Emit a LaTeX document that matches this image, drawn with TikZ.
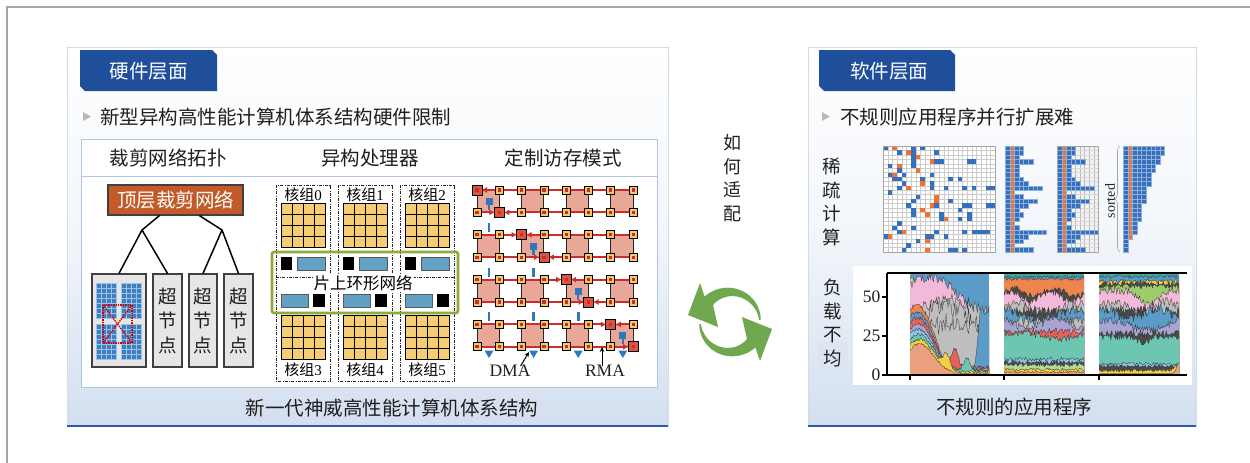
\documentclass[tikz,border=0pt]{standalone}
\usepackage{fontspec}
\setmainfont{Liberation Serif}
\newfontfamily\cjk{Noto Sans CJK SC}
\usetikzlibrary{arrows.meta,calc,decorations.pathreplacing}

\definecolor{tabblue}{HTML}{1F4E9A}
\definecolor{panelline}{HTML}{D0DCEA}
\definecolor{panelshade}{HTML}{D3DFEF}
\definecolor{rulebottom}{HTML}{2F5BA3}
\definecolor{innerline}{HTML}{AFC4E0}
\definecolor{rootbrown}{HTML}{C25A29}
\definecolor{snfill}{HTML}{E6E6E6}
\definecolor{cubeblue}{HTML}{3F7FC0}
\definecolor{cubelight}{HTML}{9CC4EA}
\definecolor{coreyellow}{HTML}{F5CD74}
\definecolor{ringgreen}{HTML}{8DAA3B}
\definecolor{bufblue}{HTML}{62A0C4}
\definecolor{tilepink}{HTML}{E9A798}
\definecolor{nodeyellow}{HTML}{F2C96A}
\definecolor{hotred}{HTML}{D9573F}
\definecolor{linkred}{HTML}{D02A2A}
\definecolor{dmablue}{HTML}{2F78BE}
\definecolor{spblue}{HTML}{3470BE}
\definecolor{sporange}{HTML}{F2712E}
\definecolor{arrowgreen}{HTML}{6FA84E}
\definecolor{lowbox}{HTML}{DCE6F2}
% stacked-area palette
\definecolor{aBlue}{HTML}{5B9BC8}
\definecolor{aPink}{HTML}{F2B9D9}
\definecolor{aGrey}{HTML}{BEBEBE}
\definecolor{aOrange}{HTML}{F0844F}
\definecolor{aSalmon}{HTML}{EAA07C}
\definecolor{aRed}{HTML}{E5625C}
\definecolor{aPurple}{HTML}{A8A3D1}
\definecolor{aSky}{HTML}{8EC4E6}
\definecolor{aTeal}{HTML}{6CC6B1}
\definecolor{aDeepTeal}{HTML}{3FA99C}
\definecolor{aYellow}{HTML}{F1D045}
\definecolor{aGreen}{HTML}{9ECC6C}
\definecolor{aMint}{HTML}{B4DA98}
\definecolor{aDark}{HTML}{4A4A4A}

\newcommand\fsz[2]{\fontsize{#1}{#2}\selectfont}
% one band of a stacked area plot: everything below the curve is filled
\newcommand\band[2]{\fill[#1,draw=black!80,line width=0.3pt] (-0.05,-3) -- plot[domain=-0.05:1.05,samples=90] (\x,{#2}) -- (1.05,-3) -- cycle;}
% one half of the green swap symbol (local units, y pointing up)
\newcommand\greenarrow{\fill[arrowgreen] plot[domain=4:135,samples=40] (\x:{30.8+5.2*(\x-4)/131}) -- (-30,39) -- (-42,7) -- (-12,-5) -- plot[domain=135:4,samples=40] (\x:{29.2-5.2*(\x-4)/131}) -- cycle;}
% row-length lists of the compressed sparse layouts
\def\rowsA{0/4,1/4,2/3,3/6,4/3,5/3,6/3,7/4,8/5,9/8,10/2,11/4,12/7,13/5,14/3,15/4,16/3,17/2,18/3,19/9,20/5,21/4,22/2,23/6}
\def\rowsS{0/9,1/9,2/8,3/8,4/7,5/7,6/6,7/6,8/6,9/5,10/5,11/5,12/5,13/4,14/4,15/4,16/4,17/3,18/3,19/3,20/2,21/1,22/1,23/1}
\newcommand\bars[2]{\foreach \r/\L in #2 {
   \foreach \k in {1,...,\L} {\filldraw[barcell] ({#1+(\k-1)*4.6},{146+\r*4.417}) rectangle ++(4.6,4.417);}
   \ifnum\L>1 \filldraw[barcell,fill=sporange] ({#1+4.6},{146+\r*4.417}) rectangle ++(4.6,4.417);\fi}}

\begin{document}
\begin{tikzpicture}[x=1pt,y=-1pt,
  declare function={bump(\pa,\pb,\pc)=exp(max(-9,-((\pa-\pb)*(\pa-\pb))/(\pc*\pc)));
                    base(\pa)=1+19*bump(\pa,0.12,0.25);
                    fade(\pa)=max(0,1-(\pa*\pa)/(0.42*0.42));},
  panel/.style={draw=panelline,line width=0.8pt,top color=white,bottom color=panelshade,middle color=white!70!panelshade},
  tabtext/.style={text=white,font=\cjk\fsz{19.5}{22},inner sep=0pt},
  cjktext/.style={text=black!88,font=\cjk\fsz{19.5}{22},inner sep=0pt},
  vtext/.style={text=black!88,font=\cjk\fsz{18.5}{23.5},align=center,inner sep=0pt},
  numtext/.style={text=black!88,font=\fsz{17.5}{20},inner sep=0pt},
  bullet/.style={fill=gray!55},
  rootbox/.style={draw=black!75,fill=rootbrown,line width=1.2pt,text=white,font=\cjk\fsz{19.5}{22},minimum width=135pt,minimum height=30pt,inner sep=0pt},
  snbox/.style={draw=black!75,fill=snfill,line width=1.2pt,inner sep=0pt,minimum height=93pt,align=center,font=\cjk\fsz{18.5}{24.5},text=black!88},
  treeline/.style={black,line width=1.5pt},
  dashdot/.style={black!85,line width=0.8pt,dash pattern=on 3pt off 1.3pt on 0.8pt off 1.3pt},
  coregrid/.style={black,line width=1pt},
  buf/.style={fill=bufblue,draw=black!65,line width=0.8pt},
  blk/.style={fill=black},
  tile/.style={fill=tilepink,draw=black!85,line width=0.9pt},
  redlink/.style={linkred,line width=1.9pt,shorten >=4.5pt,-{Latex[length=5.5pt,width=6pt]}},
  ysq/.style={rectangle,fill=nodeyellow,draw=black,line width=0.8pt,minimum size=8pt,inner sep=0pt},
  hotsq/.style={rectangle,fill=hotred,draw=black,line width=0.8pt,minimum size=10pt,inner sep=0pt},
  callout/.style={black,line width=1pt,-{Stealth[length=5pt,width=4.5pt]}},
  cube/.style={fill=cubeblue,draw=cubelight,line width=0.35pt},
  barcell/.style={fill=spblue,draw=spblue!55!white,line width=0.2pt},
  axis/.style={black,line width=1.1pt}]

\useasboundingbox (0,0) rectangle (1250,463);
\fill[white] (0,0) rectangle (1250,463);
\draw[gray!70,line width=1.3pt] (7,463) -- (7,7) -- (1250,7);

% ---------------- hardware panel ----------------
\path[panel] (67,47) rectangle (668,426);
\draw[rulebottom,line width=2.4pt] (67,426) -- (668,426);
\fill[tabblue] (80,50) -- (212,50) -- (217,55) -- (217,91) -- (85,91) -- (80,86) -- cycle;
\node[tabtext] (hwtab) at (148.5,71) {硬件层面};
\fill[bullet] (83,112) -- (91,116.5) -- (83,121) -- cycle;
\node[cjktext,anchor=west] (hwnote) at (100,117) {新型异构高性能计算机体系结构硬件限制};
\draw[innerline,fill=white,line width=1pt] (81,139) rectangle (657,387);
\draw[innerline,line width=1pt] (81,176) -- (657,176);
\node[cjktext] (t1) at (168,158) {裁剪网络拓扑};
\node[cjktext] (t2) at (370,158) {异构处理器};
\node[cjktext] (t3) at (563,158) {定制访存模式};
\node[cjktext] (hwcap) at (392,408) {新一代神威高性能计算机体系结构};

% pruned network tree
\node[rootbox] (root) at (175.5,200) {顶层裁剪网络};
\node[snbox,minimum width=54pt] (sn0) at (119,320.5) {};
\node[snbox,minimum width=29pt] (sn1) at (167.5,320.5) {超\\节\\点};
\node[snbox,minimum width=28pt] (sn2) at (203,320.5) {超\\节\\点};
\node[snbox,minimum width=29pt] (sn3) at (238.5,320.5) {超\\节\\点};
\coordinate (ja) at (142,230);
\coordinate (jb) at (222,230);
\draw[treeline] ($(root.south west)+(52,0)$) -- (ja) -- (sn0.north);
\draw[treeline] (ja) -- (sn1.north);
\draw[treeline] ($(root.south west)+(92,0)$) -- (jb) -- (sn2.north);
\draw[treeline] (jb) -- (sn3.north);
% cabinets inside the first super node
\foreach \cx/\cy in {96/283,121/283,96/324,121/324} {
  \foreach \i in {0,...,3} \foreach \j in {0,...,6}
    \draw[cube] (\cx+\i*5.1,\cy+\j*5) rectangle ++(5.1,5);
}
\draw[red!85!black,densely dotted,line width=1.4pt] (103,305) rectangle (132,343);
\draw[red!85!black,densely dotted,line width=1.4pt] (103,305) -- (132,343);
\draw[red!85!black,densely dotted,line width=1.4pt] (132,305) -- (103,343);

% heterogeneous processor: six core groups on a ring
\foreach \c [evaluate=\c as \d using int(\c+3), evaluate=\c as \xo using 276+62*\c] in {0,1,2} {
  \draw[dashdot] (\xo,185) rectangle ++(54,196);
  \draw[dashdot] (\xo,277) -- ++(54,0);
  \node[font=\fsz{15}{17},inner sep=0pt] (cg\c) at (\xo+27,195) {{\cjk 核组}\c};
  \node[font=\fsz{15}{17},inner sep=0pt] (cg\d) at (\xo+27,370) {{\cjk 核组}\d};
  \foreach \gy in {203,315} {
    \draw[coregrid,fill=coreyellow] (\xo+5,\gy) rectangle ++(44,44);
    \foreach \k in {1,2,3} {
      \draw[coregrid] (\xo+5+\k*11,\gy) -- ++(0,44);
      \draw[coregrid] (\xo+5,\gy+\k*11) -- ++(44,0);
    }
  }
  \fill[blk] (\xo+5,257) rectangle ++(11,13);
  \draw[buf] (\xo+21,257) rectangle ++(28,13);
  \draw[buf] (\xo+5,294) rectangle ++(27,13);
  \fill[blk] (\xo+37,294) rectangle ++(12,13);
}
\node[font=\cjk\fsz{16.5}{18},fill=white,inner sep=1pt] (ringlbl) at (363,283) {片上环形网络};
\draw[ringgreen,line width=2.6pt,rounded corners=2pt] (272,252) rectangle (458,313);

% customised memory access: 8x8 mesh of cores
\foreach \i in {0,...,7} \foreach \j in {0,...,7}
  \coordinate (p-\i-\j) at ({477+22.3*\i},{190+22.4*\j});
\foreach \a in {0,...,3} \foreach \b in {0,...,3}
  \draw[tile] ({477+44.6*\a},{190+44.8*\b}) rectangle ++(22.3,22.4);
\foreach \j in {0,...,7} {
  \ifnum\j>0 \draw[redlink] (p-0-\j) -- (p-\j-\j);\fi
  \ifnum\j<7 \draw[redlink] (p-7-\j) -- (p-\j-\j);\fi
}
\foreach \g [evaluate=\g as \cx using 477+44.6*\g+12, evaluate=\g as \ry using 190+44.8*\g] in {0,...,3} {
  \fill[dmablue] (\cx-3.5,\ry+8) rectangle (\cx+3.5,\ry+15);
  \fill[dmablue] (\cx-1.2,\ry+15) rectangle (\cx+1.2,\ry+20);
  \fill[dmablue] (\cx-4.5,350.5) -- (\cx+4.5,350.5) -- (\cx,358) -- cycle;
  \foreach \h in {1,2,3} {
    \ifnum\h>\g \fill[dmablue] (\cx-1.3,{190+44.8*\h-12}) rectangle (\cx+1.3,{190+44.8*\h-3});\fi
  }
}
\foreach \i in {0,...,7} \foreach \j in {0,...,7} {
  \ifnum\i=\j \node[hotsq] (n-\i-\j) at (p-\i-\j) {};
  \else \node[ysq] (n-\i-\j) at (p-\i-\j) {};\fi
  \fill[linkred] ($(p-\i-\j)+(-1.6,-1.6)$) rectangle ++(3.2,3.2);
}
\node[numtext] (dma) at (510,371) {DMA};
\node[numtext] (rma) at (605,371) {RMA};
\coordinate (dmatip) at (529,352);
\coordinate (rmatip) at (602,347);
\draw[callout] ($(dma.north east)+(-10,1)$) -- (dmatip);
\draw[callout] ($(rma.north)+(-3,1)$) -- (rmatip);

% ---------------- middle ----------------
\node[vtext,font=\cjk\fsz{18}{23.5}] (howfit) at (732,178) {如\\何\\适\\配};
\begin{scope}[shift={(730,322)},x=1pt,y=1pt]
  \greenarrow
\end{scope}
\begin{scope}[shift={(730,322)},x=1pt,y=1pt,rotate=180]
  \greenarrow
\end{scope}

% ---------------- software panel ----------------
\path[panel] (808,47) rectangle (1196,426);
\draw[rulebottom,line width=2.4pt] (808,426) -- (1196,426);
\fill[tabblue] (819,50) -- (950,50) -- (955,55) -- (955,91) -- (824,91) -- (819,86) -- cycle;
\node[tabtext] (swtab) at (889,71) {软件层面};
\fill[bullet] (822,112) -- (830,116.5) -- (822,121) -- cycle;
\node[cjktext,anchor=west] (swnote) at (840,117) {不规则应用程序并行扩展难};
\node[vtext] (sparse) at (832,202) {稀\\疏\\计\\算};
\node[cjktext] (swcap) at (1014,407) {不规则的应用程序};

% sparse matrix
\fill[white] (883,146) rectangle (995,252);
\foreach \k in {1,...,23} {
  \draw[gray!40,line width=0.25pt] ({883+\k*4.667},146) -- ++(0,106);
  \draw[gray!40,line width=0.25pt] (883,{146+\k*4.417}) -- ++(112,0);
}
\foreach \c/\r in {0/0,6/0,8/0,3/1,6/1,11/1,6/2,6/3,11/3,12/3,18/3,19/3,1/4,6/4,3/5,1/6,4/6,10/6,2/7,3/7,8/7,14/7,16/7,4/8,10/8,3/9,10/9,13/9,17/9,19/9,22/9,23/9,1/10,7/11,6/12,14/12,5/13,11/13,17/13,18/13,22/13,23/13,6/14,16/14,6/15,12/15,18/15,12/16,16/16,18/16,3/17,2/18,6/18,3/19,11/19,17/19,19/19,20/19,21/19,22/19,0/20,9/20,10/20,13/20,7/21,5/22,4/23,14/23,15/23,17/23}
  \fill[spblue] ({883+\c*4.667},{146+\r*4.417}) rectangle ++(4.667,4.417);
\foreach \c/\r in {2/0,5/1,7/2,10/3,3/4,7/5,2/6,8/8,5/9,11/11,11/12,10/13,8/14,9/15,13/16,4/19,1/20,9/21,9/23}
  \fill[sporange] ({883+\c*4.667},{146+\r*4.417}) rectangle ++(4.667,4.417);
\draw[gray!70,line width=0.8pt] (883,146) rectangle (995,252);

% compressed rows
\bars{1005}{\rowsA}
% padded rows
\fill[gray!10] (1057,146) rectangle (1098.4,252);
\foreach \k in {1,...,8} \draw[gray!55,line width=0.3pt] ({1057+\k*4.6},146) -- ++(0,106);
\foreach \k in {1,...,23} \draw[gray!30,line width=0.2pt] (1057,{146+\k*4.417}) -- ++(41.4,0);
\bars{1057}{\rowsA}
\draw[gray!70,line width=0.6pt] (1057,146) rectangle (1098.4,252);
% sorted rows
\node[font=\fsz{14}{16},rotate=90,inner sep=0pt,text=black!85] (sortlbl) at (1110,201) {sorted};
\draw[gray!70,line width=0.6pt,decorate,decoration={brace,amplitude=5pt}] (1120,252) -- (1120,146);
\bars{1123}{\rowsS}

% load imbalance plot
\fill[white] (853,266) rectangle (1192,385);
\fill[lowbox] (818,342) rectangle (847,383);
\node[vtext] (loadlbl) at (833,323) {负\\载\\不\\均};
\pgfmathsetseed{11}
\begin{scope}[shift={(910,375)},x=79pt,y=1.56pt]
  \clip (0,0) rectangle (1,65.3);
  \fill[aBlue] (0,0) rectangle (1,66);
  \band{aMint}{62-30*\x+1.5*rand}
  \band{aPink}{58+6*sin(300*\x)-16*\x*\x+3*rand}
  \band{aGrey}{40+8*sin(180*\x)+4*rand}
  \band{aGrey}{30+14*sin(200*\x)+6*rand}
  \band{aGrey}{20+14*sin(170*\x)+6*rand}
  \band{aBlue}{3+38*max(0,min(1,(\x-0.82)*15))+3*rand}
  \band{aOrange}{base(\x)+4+22*fade(\x)+1.2*rand}
  \band{aBlue}{base(\x)+3.5+18*fade(\x)+1.2*rand}
  \band{aRed}{base(\x)+3+15*fade(\x)+12*bump(\x,0.57,0.06)+1.5*rand}
  \band{aPurple}{base(\x)+2.5+11*fade(\x)+rand}
  \band{aSky}{base(\x)+2+8*fade(\x)+rand}
  \band{aTeal}{base(\x)+1.5+5*fade(\x)+8*bump(\x,0.72,0.06)+rand}
  \band{aYellow}{base(\x)+1+2*fade(\x)+9*bump(\x,0.46,0.06)+rand}
  \band{aSalmon}{base(\x)+0.8*rand}
\end{scope}
\begin{scope}[shift={(1004,375)},x=80pt,y=1.56pt]
  \clip (0,0) rectangle (1,65.3);
  \fill[aDeepTeal] (0,0) rectangle (1,66);
  \band{aBlue}{63+0.8*rand}
  \band{aOrange}{61.5+rand}
  \band{aDark}{53+2.5*sin(720*\x)+2*rand}
  \band{aPink}{51+3*sin(720*\x+30)+2.5*rand}
  \band{aGrey}{43+3*sin(500*\x)+3*rand}
  \band{aDark}{40.5+3*rand}
  \band{aBlue}{39+3*sin(400*\x+90)+3*rand}
  \band{aGrey}{35+3*rand}
  \band{aPurple}{33+3*sin(500*\x+120)+2.5*rand}
  \band{aRed}{28+2*rand}
  \band{aTeal}{25+2*sin(400*\x)+2*rand}
  \band{aSky}{10+1.5*rand}
  \band{aDark}{8+1.2*rand}
  \band{aMint}{6.5+1.2*rand}
  \band{aYellow}{3.5+rand}
  \band{aSalmon}{1.8+0.6*rand}
\end{scope}
\begin{scope}[shift={(1099,375)},x=80pt,y=1.56pt]
  \clip (0,0) rectangle (1,65.3);
  \fill[aDeepTeal] (0,0) rectangle (1,66);
  \band{aBlue}{63+rand}
  \band{aYellow}{60+1.5*rand}
  \band{aDark}{58.5+1.5*rand}
  \band{aGreen}{57+1.5*rand}
  \band{aPink}{54-9*bump(\x,0.62,0.15)+2.5*rand}
  \band{aGrey}{44+3*sin(540*\x)+3*rand}
  \band{aDark}{41+3*rand}
  \band{aBlue}{39.5+3*sin(540*\x+60)+3*rand}
  \band{aPurple}{32+3*sin(400*\x+30)+2.5*rand}
  \band{aDark}{26.5+2*rand}
  \band{aTeal}{24.5-4*bump(\x,0.55,0.1)+2*rand}
  \band{aSky}{7+1.2*rand}
  \band{aDark}{5.5+rand}
  \band{aYellow}{3+rand+3*bump(\x,0.97,0.05)}
  \band{aSalmon}{1+7*bump(\x,1,0.04)}
\end{scope}
\draw[axis] (887,273) -- (1187,273);
\draw[axis] (887,273) -- (887,375) -- (1187,375);
\foreach \v/\yy in {50/297,25/336,0/375} {
  \draw[axis] (882,\yy) -- (887,\yy);
  \node[numtext,anchor=east] (tick\v) at (880.5,\yy) {\v};
}
\foreach \xx in {910,1004,1099} \draw[axis] (\xx,375) -- (\xx,380);
\end{tikzpicture}
\end{document}
